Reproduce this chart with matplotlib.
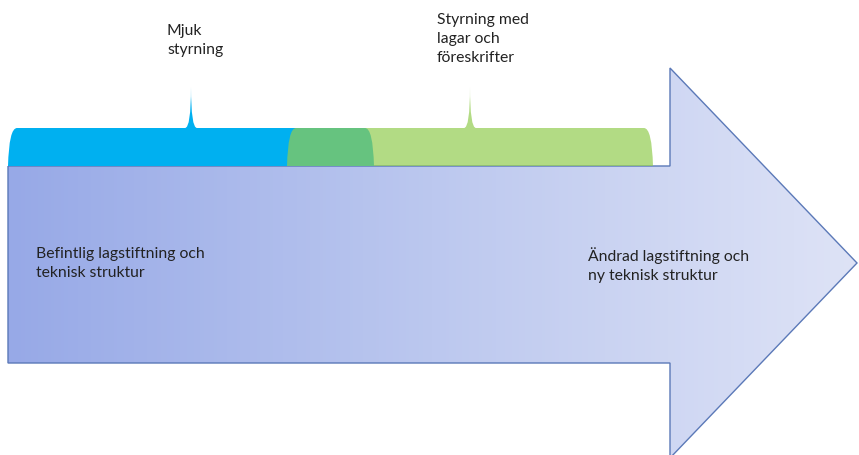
import numpy as np
import matplotlib.pyplot as plt
from matplotlib.path import Path
from matplotlib.patches import PathPatch, Polygon
from matplotlib.colors import LinearSegmentedColormap

# Diagram content (pixel-like units, y grows downward)
brace_spans = [(8, 374), (287, 653)]
brace_colors = ["#00B0F0", "#92CC50"]
brace_alpha = [1.0, 0.7]
brace_labels = ["Mjuk\nstyrning", "Styrning med\nlagar och\nföreskrifter"]
brace_label_pos = [(167, 24), (437, 13)]
arrow_labels = ["Befintlig lagstiftning och\nteknisk struktur",
                "Ändrad lagstiftning och\nny teknisk struktur"]
arrow_label_pos = [(36, 247), (588, 247)]

W, H = 859, 455
fig = plt.figure(figsize=(W / 100, H / 100), dpi=100)
ax = fig.add_axes([0, 0, 1, 1])
ax.set_xlim(0, W)
ax.set_ylim(H, 0)
ax.axis("off")

# big arrow with horizontal gradient
body_top, body_bot = 166, 363
head_x, tip = 670, (857, 263)
arrow_pts = [(8, body_top), (head_x, body_top), (head_x, 68), tip,
             (head_x, 458), (head_x, body_bot), (8, body_bot)]
arrow = Polygon(arrow_pts, closed=True, facecolor="none",
                edgecolor="#5B79B8", linewidth=1.0, zorder=3)
ax.add_patch(arrow)
cmap = LinearSegmentedColormap.from_list("arr", ["#97A9E7", "#BCC8EF", "#DEE3F6"])
grad = np.linspace(0, 1, 256).reshape(1, -1)
im = ax.imshow(grad, cmap=cmap, extent=[8, tip[0], 458, 68], aspect="auto",
               zorder=2)
im.set_clip_path(arrow)


def brace(x0, x1, ybase=166, ytop=128, yspike=87):
    xc = (x0 + x1) / 2
    verts = [(x0, ybase), (x0 + 1, ytop), (x0 + 9, ytop),
             (xc - 6, ytop), (xc, ytop), (xc, yspike),
             (xc, ytop), (xc + 6, ytop),
             (x1 - 9, ytop), (x1 - 1, ytop), (x1, ybase),
             (x0, ybase)]
    codes = [Path.MOVETO, Path.CURVE3, Path.CURVE3,
             Path.LINETO, Path.CURVE3, Path.CURVE3,
             Path.CURVE3, Path.CURVE3,
             Path.LINETO, Path.CURVE3, Path.CURVE3,
             Path.CLOSEPOLY]
    return Path(verts, codes)


for (x0, x1), c, a in zip(brace_spans, brace_colors, brace_alpha):
    ax.add_patch(PathPatch(brace(x0, x1), facecolor=c, edgecolor="none",
                           alpha=a, zorder=4))

for txt, (x, y) in zip(brace_labels, brace_label_pos):
    ax.text(x, y, txt, fontsize=11.3, family="Lato", color="#222222",
            va="top", ha="left", linespacing=1.45)

for txt, (x, y) in zip(arrow_labels, arrow_label_pos):
    ax.text(x, y, txt, fontsize=11.3, family="Lato", color="#222222",
            va="top", ha="left", linespacing=1.45, zorder=5)

fig.savefig("out.png", dpi=100)
